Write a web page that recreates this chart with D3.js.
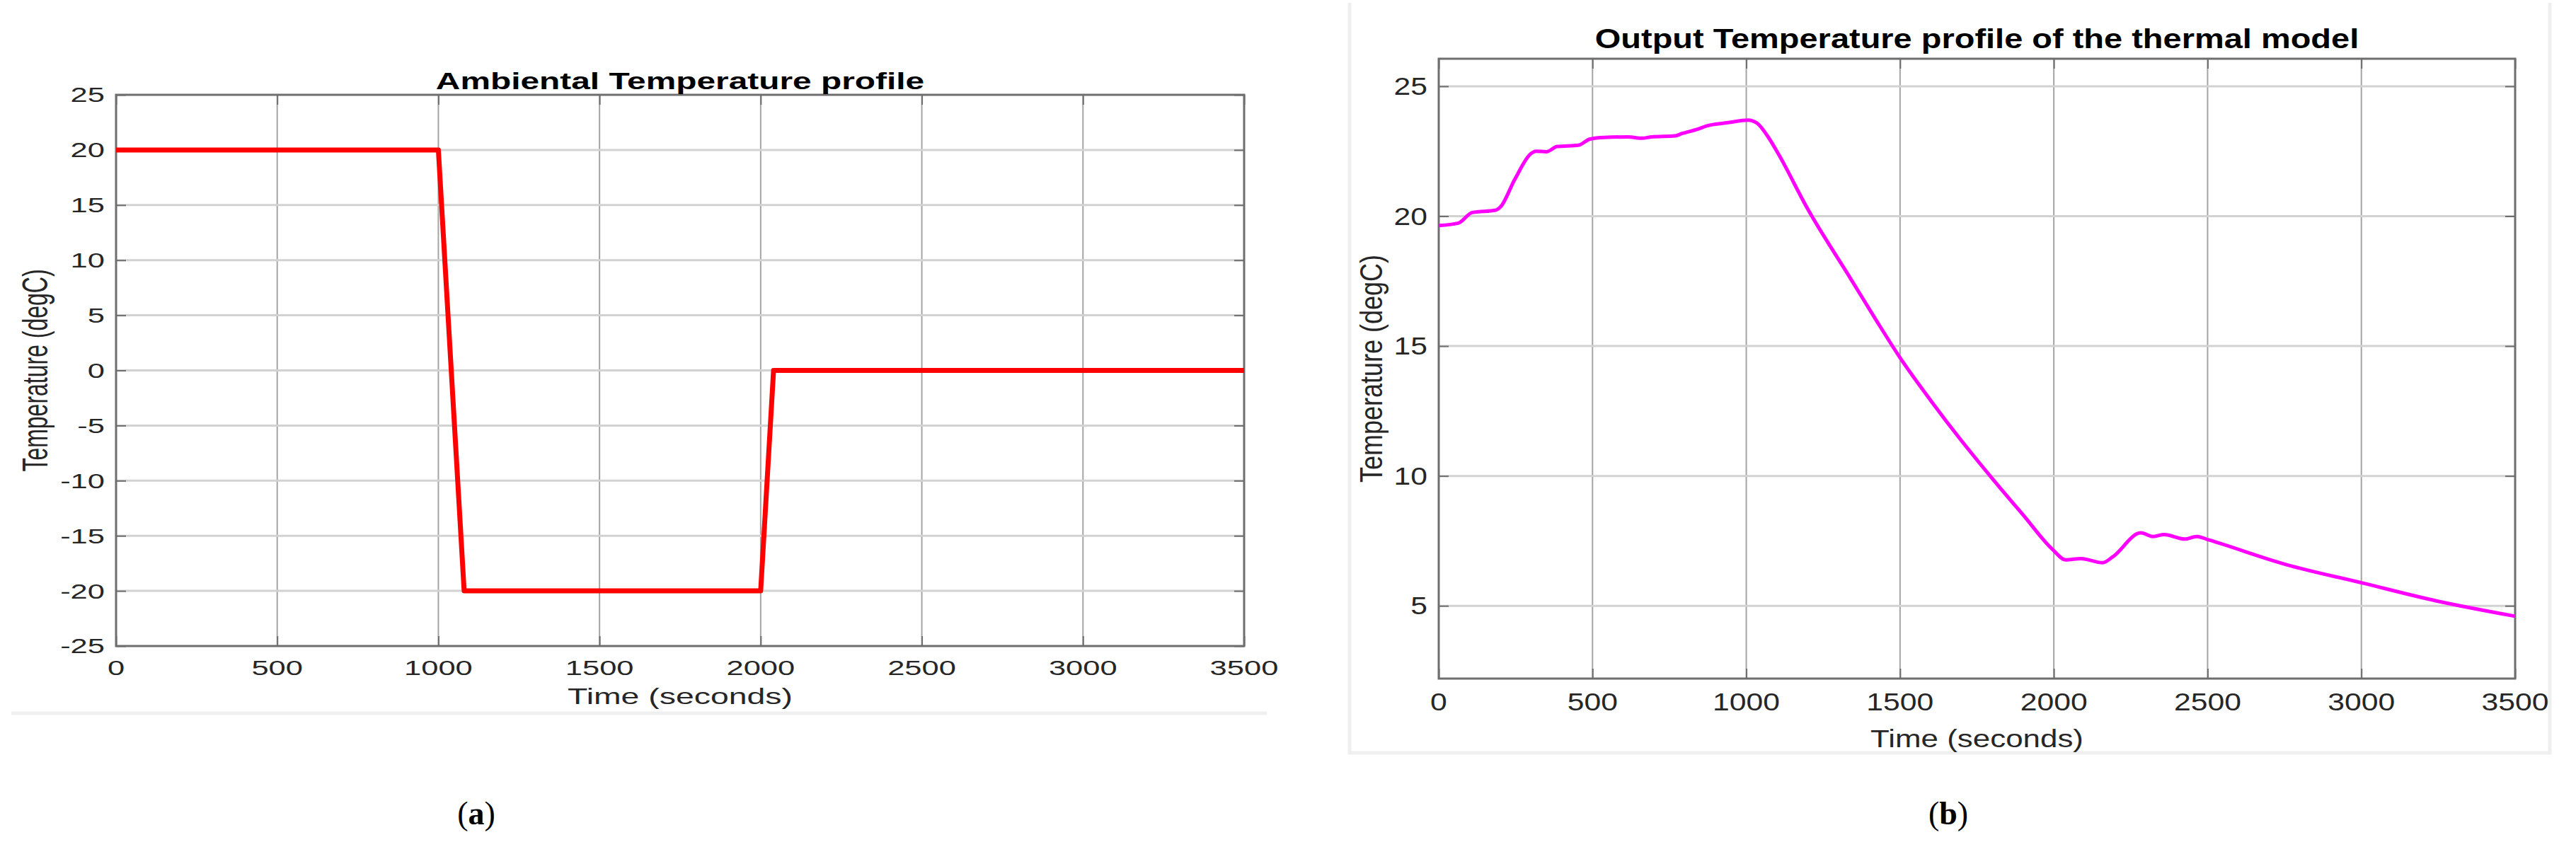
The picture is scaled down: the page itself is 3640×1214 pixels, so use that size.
<!DOCTYPE html>
<html>
<head>
<meta charset="utf-8">
<script src="https://cdn.jsdelivr.net/npm/d3@7"></script>
<style>
  body { margin: 0; background: #fff; }
  svg { display: block; }
  text { font-family: "Liberation Sans", Arial, sans-serif; fill: #262626; }
</style>
</head>
<body>
<div id="fig"></div>
<script>
// (a) ambient temperature profile
var ambTime = [0, 1000, 1080, 2000, 2040, 3500];
var ambTemp = [20, 20, -20, -20, 0, 0];

// (b) output temperature of the thermal model
var outTime = [0, 63, 109, 185, 201, 247, 300, 316, 350, 385, 454, 492, 538, 615, 661, 692, 768, 791, 845, 870, 941, 1006,
  1035, 1071, 1105, 1199, 1340, 1421, 1500, 1600, 1700, 1800, 1900, 1996, 2039, 2088, 2159, 2191, 2283, 2321, 2359,
  2425, 2465, 2503, 2755, 3003, 3244, 3500];
var outTemp = [19.64, 19.73, 20.14, 20.23, 20.36, 21.41, 22.41, 22.5, 22.48, 22.68, 22.73, 22.97, 23.03, 23.05, 23.0, 23.05,
  23.09, 23.18, 23.36, 23.47, 23.6, 23.7, 23.58, 23.05, 22.38, 20.29, 17.58, 16.02, 14.55, 12.9, 11.35, 9.9, 8.5, 7.17,
  6.77, 6.82, 6.66, 6.88, 7.81, 7.67, 7.74, 7.57, 7.67, 7.54, 6.59, 5.88, 5.19, 4.6];

var xTicks = [0, 500, 1000, 1500, 2000, 2500, 3000, 3500];
var yTicksA = [-25, -20, -15, -10, -5, 0, 5, 10, 15, 20, 25];
var yTicksB = [5, 10, 15, 20, 25];

var W = 3640, H = 1214;

var svg = d3.select("#fig").append("svg")
    .attr("width", W)
    .attr("height", H);

// light panel frames
svg.append("path")
    .attr("d", "M16,1008H1790")
    .attr("stroke", "#efefef").attr("stroke-width", 5).attr("fill", "none");
svg.append("path")
    .attr("d", "M1907,4V1064H3603V4")
    .attr("stroke", "#efefef").attr("stroke-width", 5).attr("fill", "none");

//stretched text helper (the source figure is widened horizontally)
function label(g, x, y, str, size, sx, opts) {
  opts = opts || {};
  var t = g.append("text")
      .attr("transform", "translate(" + x + "," + y + ") scale(" + sx + ",1)" + (opts.rotate ? " rotate(-90)" : ""))
      .attr("text-anchor", opts.anchor || "middle")
      .attr("dominant-baseline", opts.baseline || "auto")
      .style("font-size", size + "px")
      .text(str);
  if (opts.bold) t.style("font-weight", "bold").style("fill", "#000");
  return t;
}

function chart(cfg) {
  var g = svg.append("g");
  var x = d3.scaleLinear().domain([0, 3500]).range([cfg.left, cfg.right]);
  var y = d3.scaleLinear().domain(cfg.yDomain).range([cfg.bottom, cfg.top]);
  var mid = (cfg.left + cfg.right) / 2;

  // vertical grid
  g.append("g")
      .selectAll("line").data(xTicks.slice(1, -1)).enter().append("line")
      .attr("x1", x).attr("x2", x)
      .attr("y1", cfg.top).attr("y2", cfg.bottom)
      .attr("stroke", "#a4a4a4").attr("stroke-width", 2);

  // horizontal grid
  g.append("g")
      .selectAll("line").data(cfg.yTicks.filter(function(d) { return y(d) > cfg.top + 2 && y(d) < cfg.bottom - 2; }))
      .enter().append("line")
      .attr("x1", cfg.left).attr("x2", cfg.right)
      .attr("y1", y).attr("y2", y)
      .attr("stroke", "#d2d2d2").attr("stroke-width", 3);

  // ticks, pointing in, on all four sides
  var tk = 14;
  var axisCol = "#6e6e6e";
  var bx = g.append("g").attr("transform", "translate(0," + cfg.bottom + ")")
      .call(d3.axisBottom(x).tickValues(xTicks).tickSize(-tk).tickFormat(""));
  var tx = g.append("g").attr("transform", "translate(0," + cfg.top + ")")
      .call(d3.axisTop(x).tickValues(xTicks).tickSize(-tk).tickFormat(""));
  var ly = g.append("g").attr("transform", "translate(" + cfg.left + ",0)")
      .call(d3.axisLeft(y).tickValues(cfg.yTicks).tickSize(-tk).tickFormat(""));
  var ry = g.append("g").attr("transform", "translate(" + cfg.right + ",0)")
      .call(d3.axisRight(y).tickValues(cfg.yTicks).tickSize(-tk).tickFormat(""));
  [bx, tx, ly, ry].forEach(function(a) {
    a.select(".domain").remove();
    a.selectAll("line").attr("stroke", axisCol).attr("stroke-width", 2);
  });

  // box
  g.append("rect")
      .attr("x", cfg.left).attr("y", cfg.top)
      .attr("width", cfg.right - cfg.left).attr("height", cfg.bottom - cfg.top)
      .attr("fill", "none").attr("stroke", axisCol).attr("stroke-width", 3);

  // the data line
  var line = d3.line()
      .x(function(d) { return x(d[0]); })
      .y(function(d) { return y(d[1]); })
      .curve(cfg.curve);
  g.append("path")
      .datum(d3.zip(cfg.xs, cfg.ys))
      .attr("d", line)
      .attr("fill", "none")
      .attr("stroke", cfg.color)
      .attr("stroke-width", cfg.lw)
      .attr("stroke-linejoin", "round");

  // tick labels
  xTicks.forEach(function(d) {
    label(g, x(d), cfg.bottom + cfg.xLabGap, d, cfg.font, cfg.sx, {baseline: "central"});
  });
  cfg.yTicks.forEach(function(d) {
    label(g, cfg.left - 16, y(d), d, cfg.font, cfg.sx, {anchor: "end", baseline: "central"});
  });

  // axis titles and chart title
  label(g, mid, cfg.xTitleY, "Time (seconds)", cfg.labFont, cfg.sx, {baseline: "central"});
  label(g, cfg.yTitleX, (cfg.top + cfg.bottom) / 2, "Temperature (degC)", cfg.labFont, cfg.ySx, {rotate: true});
  label(g, mid, cfg.titleY, cfg.title, cfg.titleFont, cfg.sx, {bold: true});
}

chart({
  left: 164, right: 1758, top: 134, bottom: 913,
  yDomain: [-25, 25], yTicks: yTicksA,
  xs: ambTime, ys: ambTemp, color: "#ff0000", lw: 7, curve: d3.curveLinear,
  font: 30, sx: 1.45, xLabGap: 31, labFont: 32, xTitleY: 984, yTitleX: 67, ySx: 1.55,
  title: "Ambiental Temperature profile", titleY: 126, titleFont: 33
});

chart({
  left: 2033, right: 3554, top: 83, bottom: 959,
  yDomain: [2.2, 26.06], yTicks: yTicksB,
  xs: outTime, ys: outTemp, color: "#ff00ff", lw: 5, curve: d3.curveMonotoneX,
  font: 35, sx: 1.22, xLabGap: 33, labFont: 36, xTitleY: 1044, yTitleX: 1953, ySx: 1.22,
  title: "Output Temperature profile of the thermal model", titleY: 68, titleFont: 38.5
});

// sub-figure captions
[["(", "a", ")", 673], ["(", "b", ")", 2753]].forEach(function(c) {
  var t = svg.append("text")
      .attr("x", c[3]).attr("y", 1165)
      .attr("text-anchor", "middle")
      .style("font-family", "'Liberation Serif', 'Times New Roman', serif")
      .style("font-size", "46px")
      .style("fill", "#000");
  t.append("tspan").text(c[0]);
  t.append("tspan").style("font-weight", "bold").text(c[1]);
  t.append("tspan").text(c[2]);
});
</script>
</body>
</html>
